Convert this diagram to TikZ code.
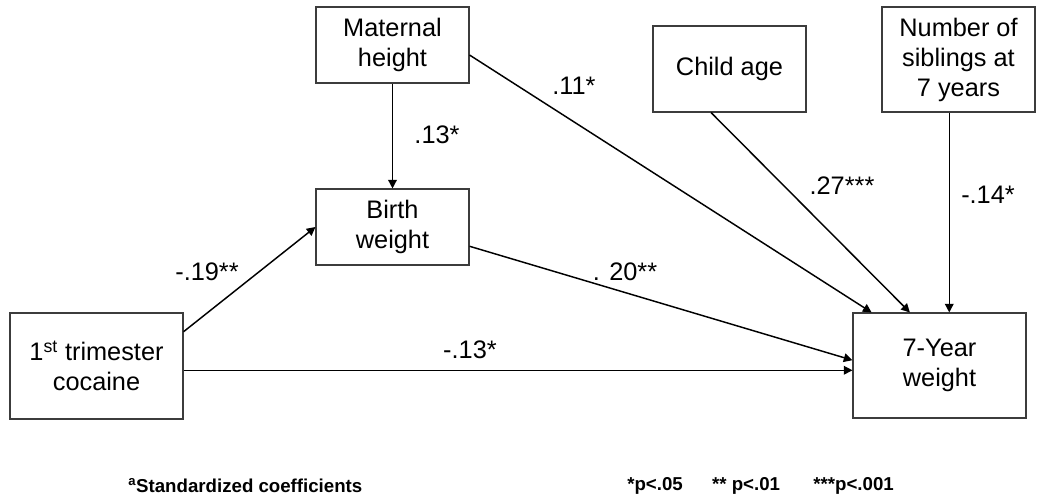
\documentclass[tikz,border=0pt]{standalone}
\usepackage{fontspec}
\setmainfont{Liberation Sans}
\usepackage{tikz}
\usetikzlibrary{arrows.meta,calc,positioning}
\definecolor{boxline}{RGB}{60,60,60}

\begin{document}
\begin{tikzpicture}[x=0.75pt,y=-0.75pt,
    var/.style={draw=boxline, line width=.8pt, align=center, inner sep=0pt,
      font=\fontsize{19}{22.5}\selectfont},
    path/.style={line width=1.1pt, -{Triangle[length=6.5pt,width=6.5pt]}},
    coef/.style={font=\fontsize{19}{22}\selectfont, inner sep=0pt}]
  \useasboundingbox (0,0) rectangle (1050,502);

  % Variables, at the centres of the boxes.
  \node[var, minimum width=114.75pt, minimum height=57pt] (maternal) at (392.5,45)
    {Maternal\\height};
  \node[var, minimum width=114.75pt, minimum height=64.5pt] (childage) at (729.5,69)
    {Child age};
  \node[var, minimum width=114.75pt, minimum height=78.75pt] (siblings) at (958.5,59.5)
    {Number of\\siblings at\\7 years};
  \node[var, minimum width=114.75pt, minimum height=57pt] (birth) at (392.5,227)
    {Birth\\weight};
  \node[var, minimum width=129.75pt, minimum height=79.5pt] (cocaine) at (96.5,366)
    {1\textsuperscript{st} trimester\\cocaine};
  \node[var, minimum width=129.75pt, minimum height=78.75pt] (weight7) at (939.5,365.5)
    {7-Year\\weight};

  % Where the paths leave and meet the boxes.
  \coordinate (sibfoot) at ($(siblings.south west)!.44!(siblings.south east)$);
  \coordinate (cocout) at ($(cocaine.north east)!.54!(cocaine.south east)$);

  % Paths.
  \draw[path] (maternal) -- (birth);
  \draw[path] ($(cocaine.north east)!.18!(cocaine.south east)$) -- (birth.west);
  \draw[path] ($(maternal.north east)!.63!(maternal.south east)$)
    -- ($(weight7.north west)!.11!(weight7.north east)$);
  \draw[path] ($(childage.south west)!.38!(childage.south east)$)
    -- ($(weight7.north west)!.33!(weight7.north east)$);
  \draw[path] (sibfoot) -- (sibfoot |- weight7.north);
  \draw[path] ($(birth.north east)!.75!(birth.south east)$)
    -- ($(weight7.north west)!.45!(weight7.south west)$);
  \draw[path] (cocout) -- (cocout -| weight7.west);

  % Coefficients.
  \node[coef] (c1) at (437,135) {.13*};
  \node[coef] (c2) at (207,272) {-.19**};
  \node[coef] (c3) at (574,86) {.11*};
  \node[coef] (c4) at (842,186) {.27***};
  \node[coef] (c5) at (988,195) {-.14*};
  \node[coef] (c6) at (625,272) {. 20**};
  \node[coef] (c7) at (470,350) {-.13*};

  \node[anchor=west, inner sep=0pt, font=\bfseries\fontsize{14}{16}\selectfont]
    (note) at (128,486) {\textsuperscript{a}Standardized coefficients};
  \node[anchor=west, inner sep=0pt, font=\bfseries\fontsize{14}{16}\selectfont]
    (sig) at (627,486) {*p<.05\hspace{22pt}** p<.01\hspace{25pt}***p<.001};
\end{tikzpicture}
\end{document}
